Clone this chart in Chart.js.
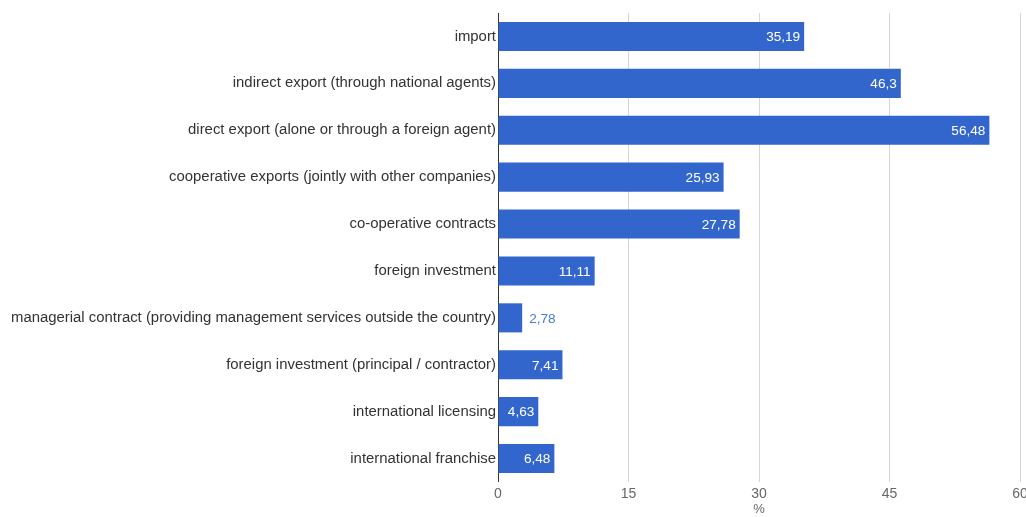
<!DOCTYPE html>
<html>
<head>
<meta charset="utf-8">
<script src="https://cdn.jsdelivr.net/npm/chart.js@4"></script>
<style>
  html, body { margin: 0; padding: 0; background: #fff; }
  #wrap { width: 1026px; height: 517px; }
</style>
</head>
<body>
<div id="wrap"><canvas id="chart"></canvas></div>
<script>
const categories = [
  "import",
  "indirect export (through national agents)",
  "direct export (alone or through a foreign agent)",
  "cooperative exports (jointly with other companies)",
  "co-operative contracts",
  "foreign investment",
  "managerial contract (providing management services outside the country)",
  "foreign investment (principal / contractor)",
  "international licensing",
  "international franchise",
];
const values = [35.19, 46.3, 56.48, 25.93, 27.78, 11.11, 2.78, 7.41, 4.63, 6.48];
const xTicks = [0, 15, 30, 45, 60];
const axisTitle = "%";

const barColor = "#3366cc";
const fontFamily = "'Liberation Sans', Arial, sans-serif";

// value labels: inside the bar end in white, outside in blue when the bar is too short
const valueLabels = {
  id: "valueLabels",
  afterDatasetsDraw(chart) {
    const ctx = chart.ctx;
    const meta = chart.getDatasetMeta(0);
    ctx.save();
    ctx.font = "13.6px " + fontFamily;
    ctx.textBaseline = "middle";
    meta.data.forEach((bar, i) => {
      const txt = String(values[i]).replace(".", ",");
      const w = ctx.measureText(txt).width;
      const len = bar.x - bar.base;
      if (w + 8 < len) {
        ctx.fillStyle = "#ffffff";
        ctx.textAlign = "right";
        ctx.fillText(txt, bar.x - 4, bar.y + 1);
      } else {
        ctx.fillStyle = "#4a7bd6";
        ctx.textAlign = "left";
        ctx.fillText(txt, bar.x + 7, bar.y + 1);
      }
    });
    ctx.restore();
  },
};

new Chart(document.getElementById("chart"), {
  type: "bar",
  data: {
    labels: categories,
    datasets: [
      {
        data: values,
        backgroundColor: barColor,
        borderWidth: 0,
        categoryPercentage: 0.62,
        barPercentage: 1,
      },
    ],
  },
  options: {
    indexAxis: "y",
    responsive: true,
    maintainAspectRatio: false,
    animation: false,
    layout: { padding: { top: 13, right: 6, left: 0, bottom: 0 } },
    plugins: {
      legend: { display: false },
      tooltip: { enabled: false },
    },
    scales: {
      x: {
        min: 0,
        max: 60,
        afterBuildTicks: (axis) => {
          axis.ticks = xTicks.map((v) => ({ value: v }));
        },
        grid: {
          color: (c) => (c.tick && c.tick.value === 0 ? "#333333" : "#d6d6d6"),
          drawTicks: false,
        },
        border: { display: false },
        ticks: {
          color: "#666666",
          font: { family: fontFamily, size: 14 },
          padding: 4,
        },
        title: {
          display: true,
          text: axisTitle,
          color: "#666666",
          font: { family: fontFamily, size: 13 },
          padding: { top: 1, bottom: 0 },
        },
        afterFit: (axis) => {
          axis.height = 35;
          axis.paddingRight = 0;
        },
      },
      y: {
        grid: { display: false, drawTicks: false },
        border: { display: false },
        ticks: {
          color: "#333333",
          font: { family: fontFamily, size: 14.9 },
          padding: 2,
        },
        afterFit: (axis) => {
          axis.width = 498;
        },
      },
    },
  },
  plugins: [valueLabels],
});
</script>
</body>
</html>
